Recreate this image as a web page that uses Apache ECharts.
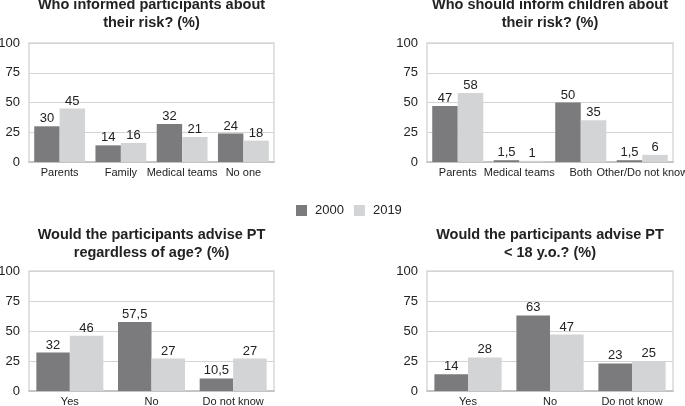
<!DOCTYPE html>
<html lang="en">
<head>
	<meta charset="UTF-8">
	<title>Risk information and PT advice</title>
	<script src="https://cdn.jsdelivr.net/npm/echarts@6/dist/echarts.min.js"></script>
	<style>
		html, body { margin: 0; padding: 0; background: #fff; }
		#chart { width: 685px; height: 406px; }
	</style>
</head>
<body>
<div id="chart"></div>
<script>
    // data
    var years = ['2000', '2019'];
    var titles = [
        'Who informed participants about\ntheir risk? (%)',
        'Who should inform children about\ntheir risk? (%)',
        'Would the participants advise PT\nregardless of age? (%)',
        'Would the participants advise PT\n< 18 y.o.? (%)'
    ];
    var cats1 = ['Parents', 'Family', 'Medical teams', 'No one'];
    var cats2 = ['Parents', 'Medical teams', 'Both', 'Other/Do not know'];
    var cats3 = ['Yes', 'No', 'Do not know'];
    var cats4 = ['Yes', 'No', 'Do not know'];
    var v1_2000 = [30, 14, 32, 24];
    var v1_2019 = [45, 16, 21, 18];
    var v2_2000 = [47, 1.5, 50, 1.5];
    var v2_2019 = [58, 1, 35, 6];
    var v3_2000 = [32, 57.5, 10.5];
    var v3_2019 = [46, 27, 27];
    var v4_2000 = [14, 63, 23];
    var v4_2019 = [28, 47, 25];
    var yTicks = [0, 25, 50, 75, 100];

    var cats = [cats1, cats2, cats3, cats4];
    var vals = [[v1_2000, v1_2019], [v2_2000, v2_2019], [v3_2000, v3_2019], [v4_2000, v4_2019]];
    var colors = ['#7b7b7d', '#d3d4d5'];
    var txt = '#222';

    // plot boxes
    var boxes = [
        {left: 29, top: 43, width: 245, height: 119},
        {left: 427, top: 43, width: 246, height: 119},
        {left: 29, top: 271, width: 245, height: 120},
        {left: 427, top: 271, width: 246, height: 120}
    ];
    var titleTops = [-4, -4, 226, 226];

    var option = {
        animation: false,
        textStyle: {fontFamily: 'Liberation Sans, Arial, sans-serif', color: txt},
        color: colors,
        legend: {
            data: years,
            left: 291, top: 199,
            itemWidth: 11, itemHeight: 11, itemGap: 10,
            icon: 'rect',
            textStyle: {fontSize: 13, color: txt, padding: [0, 0, 0, 3]}
        },
        title: [], grid: [], xAxis: [], yAxis: [], series: []
    };

    boxes.forEach(function (b, i) {
        option.title.push({
            text: titles[i],
            left: b.left + b.width / 2, top: titleTops[i],
            textAlign: 'center', padding: 0,
            textStyle: {fontSize: 14.5, fontWeight: 'bold', color: txt, lineHeight: 18}
        });
        option.grid.push({
            left: b.left, top: b.top, width: b.width, height: b.height,
            outerBoundsMode: 'none', containLabel: false,
            show: true, borderColor: '#d9d9d9', borderWidth: 1.5, backgroundColor: '#fff'
        });
        option.xAxis.push({
            type: 'category', gridIndex: i, data: cats[i],
            axisTick: {show: false},
            axisLine: {lineStyle: {color: '#bdbdbd', width: 1.5}},
            axisLabel: {fontSize: 11, color: txt, margin: 5, interval: 0}
        });
        option.yAxis.push({
            type: 'value', gridIndex: i, min: yTicks[0], max: yTicks[yTicks.length - 1],
            interval: yTicks[1] - yTicks[0],
            axisLine: {show: false}, axisTick: {show: false},
            axisLabel: {fontSize: 13, color: txt, margin: 9},
            splitLine: {lineStyle: {color: '#d4d4d4', width: 1}}
        });
        years.forEach(function (y, k) {
            option.series.push({
                name: y, type: 'bar', xAxisIndex: i, yAxisIndex: i,
                data: vals[i][k],
                barGap: '0%', barCategoryGap: i < 2 ? '17%' : '18%',
                itemStyle: {color: colors[k]},
                label: {
                    show: true, position: 'top', distance: 1,
                    fontSize: 13, color: txt,
                    formatter: function (p) { return String(p.value).replace('.', ','); }
                }
            });
        });
    });

    var myChart = echarts.init(document.getElementById('chart'));
    myChart.setOption(option);
</script>
</body>
</html>
